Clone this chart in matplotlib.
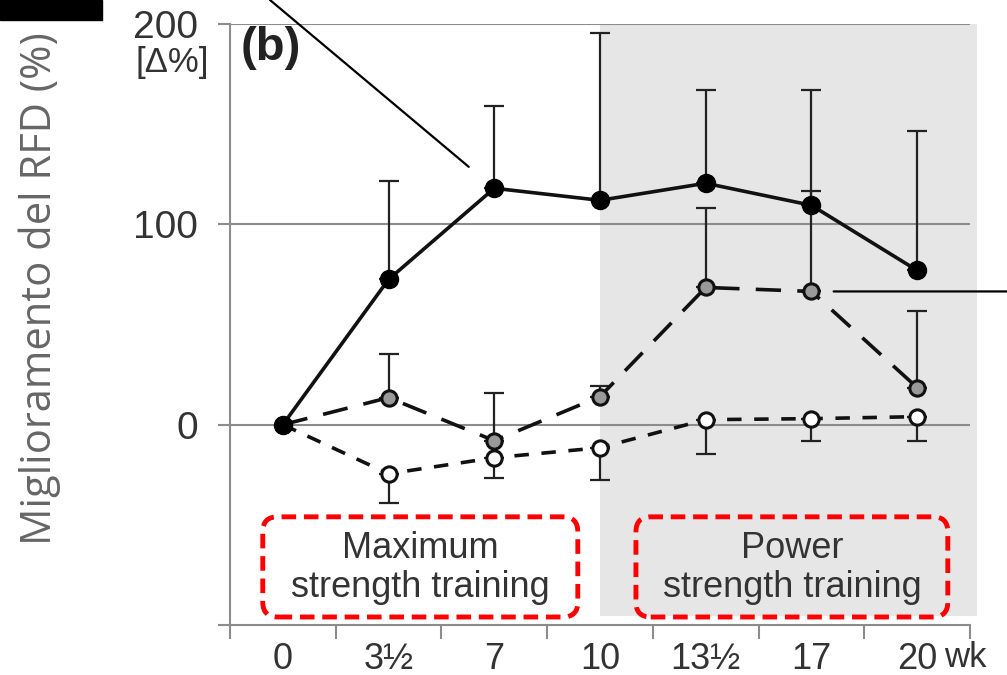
import numpy as np
import matplotlib
matplotlib.use("Agg")
import matplotlib.pyplot as plt
from matplotlib.patches import FancyBboxPatch, Rectangle

# Settimane di allenamento (asse x a categorie)
settimane = ["0", "3½", "7", "10", "13½", "17", "20"]

# Variazione RFD [Δ%] per i tre gruppi
rfd_nero = [0, 72.5, 118, 112, 120.5, 109.5, 77]
rfd_grigio = [0, 13.5, -8, 14, 68.5, 66.5, 18.5]
rfd_bianco = [0, -24.5, -16.5, -11.5, 2.5, 3, 4]

# Deviazioni standard (una sola direzione per gruppo)
sd_nero = [0, 49, 41, 83.5, 46.5, 57.5, 69.5]
sd_grigio = [0, 22, 24, 5.5, 39.5, 50, 38]
sd_bianco = [0, 14.5, 10, 16, 17, 11, 12]

plt.rcParams["font.family"] = ["Liberation Sans", "DejaVu Sans"]

fig = plt.figure(figsize=(10.07, 6.75), dpi=100)
ax = fig.add_axes([230 / 1007, 50 / 675, 740 / 1007, 601 / 675])

x = np.arange(len(settimane))
ax.set_xlim(-0.5, 6.5)
ax.set_ylim(-100, 200)

# zona grigia: fase di allenamento di potenza
ax.axvspan(3, 6.57, ymin=0.015, ymax=1, color="#e6e6e6", lw=0, zorder=0, clip_on=False)

for yv in [0, 100, 200]:
    ax.axhline(yv, color="#8c8c8c", lw=1.5, zorder=1)

# barre di errore
ax.errorbar(x[1:], rfd_nero[1:], yerr=[np.zeros(6), sd_nero[1:]], fmt="none",
            ecolor="#222222", elinewidth=1.6, capsize=7, capthick=1.6, zorder=2)
ax.errorbar(x[1:], rfd_grigio[1:], yerr=[np.zeros(6), sd_grigio[1:]], fmt="none",
            ecolor="#222222", elinewidth=1.6, capsize=7, capthick=1.6, zorder=2)
ax.errorbar(x[1:], rfd_bianco[1:], yerr=[sd_bianco[1:], np.zeros(6)], fmt="none",
            ecolor="#222222", elinewidth=1.6, capsize=7, capthick=1.6, zorder=2)

ax.plot(x, rfd_bianco, color="#111111", lw=2.6, dashes=(4, 3.5), marker="o", ms=11,
        mfc="white", mec="#111111", mew=2.2, zorder=3)
ax.plot(x, rfd_grigio, color="#111111", lw=2.6, dashes=(7, 4.5), marker="o", ms=11,
        mfc="#999999", mec="#111111", mew=2.2, zorder=4)
ax.plot(x, rfd_nero, color="#111111", lw=2.6, marker="o", ms=13,
        mfc="black", mec="black", zorder=5)

# assi
for side in ["top", "right"]:
    ax.spines[side].set_visible(False)
for side in ["left", "bottom"]:
    ax.spines[side].set_color("#8c8c8c")
    ax.spines[side].set_linewidth(1.5)

ax.set_xticks(np.arange(-0.5, 7, 1))
ax.set_xticklabels([])
ax.set_xticks(x, minor=True)
ax.set_xticklabels(settimane, minor=True)
ax.tick_params(axis="x", which="major", length=10, width=1.5, color="#8c8c8c")
ax.tick_params(axis="x", which="minor", length=0, pad=12, labelsize=26, labelcolor="#333333")

ax.set_yticks([-100, 0, 100, 200])
ax.set_yticklabels(["", "0", "100", "200"])
ax.tick_params(axis="y", length=9, width=1.5, color="#8c8c8c", pad=14,
               labelsize=28, labelcolor="#333333")
ax.text(-0.7, 181, "[Δ%]", ha="right", va="center", fontsize=25, color="#333333")
ax.text(6.46, -116, "wk", ha="center", va="center", fontsize=25, color="#333333",
        clip_on=False)

ax.text(-0.4, 188, "(b)", ha="left", va="center", fontsize=34, fontweight="bold", color="#222222")

# riquadri delle due fasi
asp = (300 / 601) / (7 / 740)
for x0, x1, txt in [(-0.19, 2.79, "Maximum\nstrength training"),
                    (3.34, 6.29, "Power\nstrength training")]:
    box = FancyBboxPatch((x0, -96), x1 - x0, 50,
                         boxstyle="round,pad=0,rounding_size=0.14",
                         mutation_aspect=asp, fill=False, ec="#ff0000", lw=3.5,
                         ls=(0, (3, 1.6)), zorder=6)
    ax.add_patch(box)
    ax.text((x0 + x1) / 2, -71.5, txt, ha="center", va="center", fontsize=26,
            color="#333333", linespacing=1.15, zorder=7)

# linee di richiamo
ax.annotate("", xy=(x[2], rfd_nero[2]), xytext=(270 / 1007, 1.0), textcoords="figure fraction",
            arrowprops=dict(arrowstyle="-", color="black", lw=1.6, shrinkA=0, shrinkB=24))
ax.annotate("", xy=(x[5], rfd_grigio[5]), xytext=(1.0, rfd_grigio[5]),
            textcoords=("figure fraction", "data"),
            arrowprops=dict(arrowstyle="-", color="black", lw=1.6, shrinkA=0, shrinkB=16))

fig.patches.append(Rectangle((0, 1 - 20 / 675), 102 / 1007, 20 / 675, transform=fig.transFigure,
                             color="black", zorder=10))

fig.text(40 / 1007, 0.573, "Miglioramento del RFD (%)", rotation=90, ha="center", va="center",
         fontsize=30, color="#666666", family=["Open Sans", "DejaVu Sans"])

fig.savefig("out.png", dpi=100)
